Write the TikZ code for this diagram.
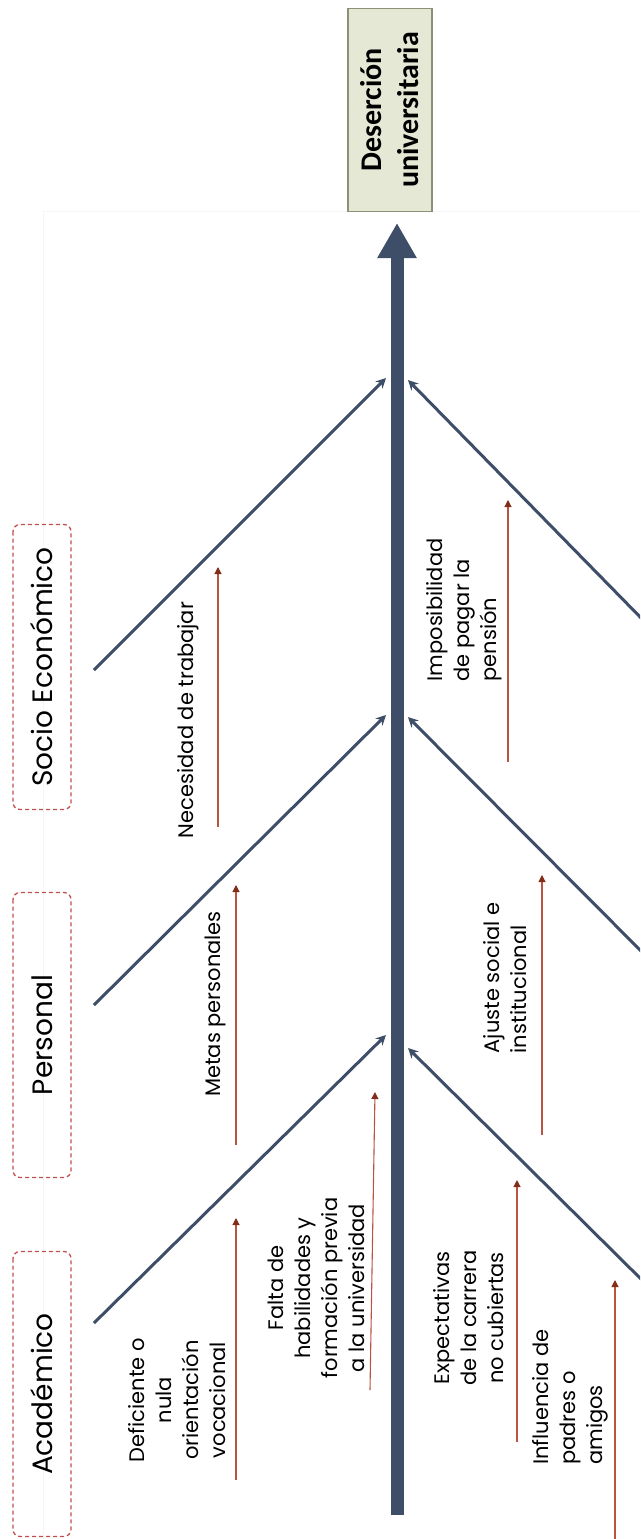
\documentclass[tikz,border=0pt]{standalone}
\usepackage{fontspec}
\setmainfont{Poppins}
\newfontfamily\titlefont{Carlito}
\usetikzlibrary{arrows.meta,positioning}
\definecolor{fbnavy}{RGB}{62,78,104}
\definecolor{fbred}{RGB}{184,84,64}
\definecolor{fbdark}{RGB}{130,45,25}
\definecolor{fbdash}{RGB}{192,80,77}
\definecolor{fbfill}{RGB}{230,232,214}
\definecolor{fbedge}{RGB}{140,144,118}
\tikzstyle{bone} = [line width=3pt,color=fbnavy,-{Stealth[length=10pt,width=10pt]}]
\tikzstyle{cause} = [line width=1.1pt,color=fbred,-{Triangle[length=7pt,width=7pt,color=fbdark]}]
\tikzstyle{catbox} = [draw=fbdash,dash pattern=on 4pt off 3pt,line width=1.3pt,rounded corners=7pt,rotate=90,minimum width=285pt,minimum height=58pt,font=\fontsize{28}{32}\selectfont]
\tikzstyle{causetext} = [rotate=90,inner sep=0pt,font=\fontsize{21}{27}\selectfont]

\begin{document}
\begin{tikzpicture}[x=1pt,y=-1pt]
\useasboundingbox (0,0) rectangle (640,1539);
% faint frame
\draw[gray!7,line width=1pt] (640,211) -- (43,211) -- (43,1539);

% Effect box
\node[draw=fbedge,fill=fbfill,line width=1.2pt,rotate=90,minimum width=203pt,minimum height=84pt,align=center,
      font=\titlefont\bfseries\fontsize{30}{37}\selectfont] (goal) at (390,110) {Deserción\\universitaria};

% Spine
\coordinate (tail) at (397,1515);
\coordinate (head) at (397,223);
\draw[line width=13pt,fbnavy,-{Triangle[length=35pt,width=37pt]}] (tail) -- (head);

% Category boxes
\node[catbox] (socio) at (42,667) {Socio Económico};
\node[catbox] (pers) at (42,1035) {Personal};
\node[catbox] (acad) at (42,1394) {Académico};

% Bones (upper side)
\coordinate (b1s) at (94,670);  \coordinate (b1t) at (386,378);
\coordinate (b2s) at (94,1005); \coordinate (b2t) at (386,715);
\coordinate (b3s) at (94,1323); \coordinate (b3t) at (386,1035);
\draw[bone] (b1s) -- (b1t);
\draw[bone] (b2s) -- (b2t);
\draw[bone] (b3s) -- (b3t);

% Bones (lower side)
\coordinate (r1s) at (645,622);  \coordinate (r1t) at (408,380);
\coordinate (r2s) at (645,955);  \coordinate (r2t) at (408,717);
\coordinate (r3s) at (645,1283); \coordinate (r3t) at (408,1048);
\begin{scope}
\clip (0,0) rectangle (640,1539);
\draw[bone] (r1s) -- (r1t);
\draw[bone] (r2s) -- (r2t);
\draw[bone] (r3s) -- (r3t);
\end{scope}

% Causes
\coordinate (c1a) at (218,827);  \coordinate (c1b) at (218,567);
\coordinate (c2a) at (508,762);  \coordinate (c2b) at (508,500);
\coordinate (c3a) at (236,1145); \coordinate (c3b) at (236,885);
\coordinate (c4a) at (542,1135); \coordinate (c4b) at (542,875);
\coordinate (c5a) at (236,1480); \coordinate (c5b) at (236,1218);
\coordinate (c6a) at (370,1390); \coordinate (c6b) at (375,1092);
\coordinate (c7a) at (517,1442); \coordinate (c7b) at (517,1180);
\coordinate (c8a) at (615,1539); \coordinate (c8b) at (615,1280);
\foreach \c in {c1,c2,c3,c4,c5,c6,c7,c8}
  \draw[cause] (\c a) -- (\c b);

\node[causetext] (nec) at (188,720) {Necesidad de trabajar};
\node[causetext,align=left] (imp) at (464,610) {Imposibilidad\\de pagar la\\pensión};
\node[causetext] (metas) at (215,1004) {Metas personales};
\node[causetext,align=left] (ajus) at (505,978) {Ajuste social e\\institucional};
\node[causetext,align=center] (defi) at (177,1400) {Deficiente o\\nula\\orientación\\vocacional};
\node[causetext,align=center] (falta) at (316,1288) {Falta de\\habilidades y\\formación previa\\a la universidad};
\node[causetext,align=center] (expe) at (469,1318) {Expectativas\\de la carrera\\no cubiertas};
\node[causetext,align=left] (infl) at (570,1397) {Influencia de\\padres o\\amigos};
\end{tikzpicture}
\end{document}
